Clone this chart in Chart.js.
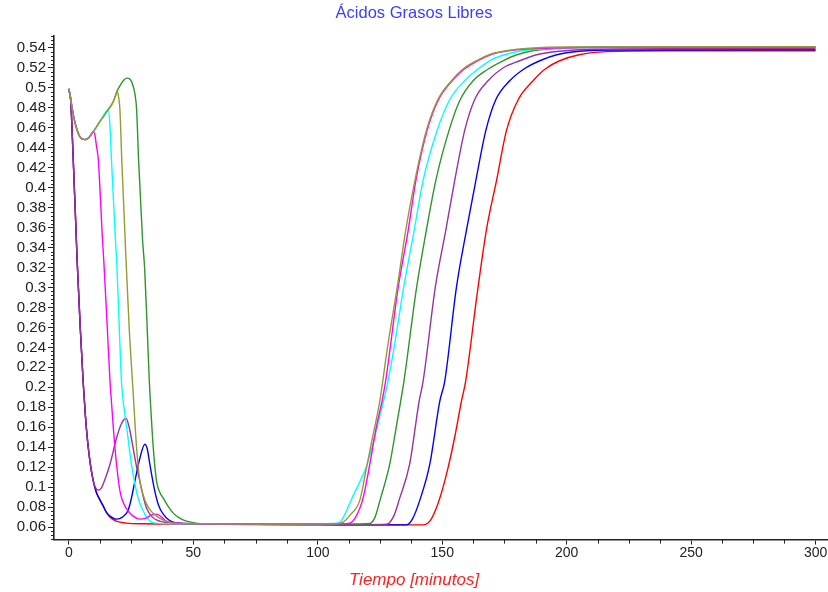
<!DOCTYPE html>
<html>
<head>
<meta charset="utf-8">
<script src="https://cdn.jsdelivr.net/npm/chart.js@4.4.1/dist/chart.umd.min.js"></script>
<style>
  html, body { margin: 0; padding: 0; background: #ffffff; }
  #chart { display: block; }
</style>
</head>
<body>
<canvas id="chart" width="828" height="592"></canvas>
<script>
// Ácidos grasos libres vs. tiempo: [minuto, concentración] por curva
const morado = [[0,0.497],[0.7,0.488],[1.7,0.43],[2.8,0.36],[3.3,0.327],[4.5,0.262],[5.7,0.206],[6.6,0.172],[7.5,0.146],[8.6,0.123],[9.8,0.106],[10.8,0.099],[11.8,0.097],[13,0.099],[14.5,0.108],[16.5,0.123],[19.1,0.149],[21,0.163],[22.9,0.169],[24.3,0.159],[25.8,0.139],[27.2,0.12],[28.5,0.106],[30,0.089],[31.2,0.079],[33.5,0.07],[36.5,0.066],[40,0.0645],[50,0.0635],[75,0.063],[100,0.0627],[120,0.0625],[127.6,0.0628],[130.5,0.071],[132.9,0.089],[136.9,0.123],[140.7,0.186],[142.3,0.206],[147.2,0.3],[151.4,0.357],[155,0.407],[159,0.457],[163,0.488],[168.4,0.507],[174.5,0.52],[181.1,0.527],[188,0.533],[197,0.5365],[210,0.5385],[240,0.539],[300,0.539]];

const azul = [[0,0.497],[0.7,0.488],[1.7,0.43],[2.8,0.36],[3.3,0.327],[4.5,0.262],[5.7,0.206],[6.6,0.172],[7.5,0.146],[8.6,0.123],[9.8,0.106],[11,0.095],[12.3,0.088],[13.8,0.081],[15,0.075],[16.5,0.071],[19.1,0.068],[21.5,0.07],[23.8,0.077],[25.2,0.09],[26.5,0.106],[28.5,0.129],[30.5,0.143],[31.5,0.138],[32.5,0.123],[34.5,0.096],[36,0.082],[37.9,0.073],[41.9,0.065],[50,0.0632],[75,0.0628],[100,0.0625],[135.6,0.0622],[138,0.068],[141,0.087],[145,0.123],[149,0.186],[151,0.206],[155.7,0.3],[159.7,0.357],[163.5,0.407],[167.5,0.457],[171.5,0.488],[177.1,0.507],[183,0.519],[189.2,0.527],[196,0.533],[205,0.5365],[220,0.5378],[300,0.538]];

const rojo = [[0,0.497],[0.7,0.488],[1.7,0.43],[2.8,0.36],[3.3,0.327],[4.5,0.262],[5.7,0.206],[6.6,0.172],[7.5,0.146],[8.6,0.123],[9.8,0.106],[11,0.095],[12.3,0.088],[13.8,0.081],[15,0.075],[16.5,0.07],[19,0.066],[23,0.064],[30,0.0633],[50,0.063],[100,0.0623],[142.3,0.0622],[145,0.066],[147.6,0.079],[150,0.097],[152.3,0.119],[155,0.15],[157.7,0.186],[159.4,0.206],[164,0.293],[167.7,0.357],[171.8,0.407],[175.8,0.457],[180.5,0.488],[186.5,0.507],[191.5,0.519],[197.2,0.527],[205,0.533],[216,0.5362],[240,0.537],[300,0.537]];

const oliva = [[0,0.499],[1,0.484],[2,0.47],[3,0.46],[4.4,0.451],[6.4,0.448],[8,0.45],[9.8,0.456],[12.4,0.466],[15.8,0.478],[17.8,0.486],[19,0.494],[19.4,0.497],[20,0.49],[20.5,0.478],[21.2,0.43],[22.9,0.33],[24.2,0.26],[25.6,0.203],[27.2,0.139],[28.5,0.106],[30,0.091],[31.2,0.083],[33,0.076],[35.2,0.071],[38,0.067],[41.9,0.064],[50,0.0633],[75,0.063],[100,0.0632],[107,0.0634],[110.2,0.065],[113,0.072],[116.9,0.087],[119.6,0.12],[122,0.15],[124.9,0.186],[128,0.24],[131.9,0.3],[135.3,0.357],[139,0.407],[143.6,0.457],[148,0.487],[153.7,0.507],[158,0.518],[163.7,0.527],[170,0.534],[175.8,0.537],[185,0.5395],[200,0.5408],[300,0.541]];

const magenta = [[0,0.499],[1,0.484],[2,0.47],[3,0.46],[4.4,0.451],[6.4,0.448],[8,0.45],[9.8,0.456],[10.4,0.453],[11.1,0.441],[11.8,0.428],[13.5,0.347],[14,0.327],[15.3,0.265],[16.5,0.206],[17.1,0.185],[18.5,0.139],[20.5,0.096],[21.8,0.085],[23.2,0.078],[25.8,0.071],[28.5,0.068],[31,0.069],[33,0.072],[35.2,0.073],[37.3,0.07],[39.2,0.066],[45,0.064],[50,0.0633],[75,0.063],[100,0.0632],[110,0.0632],[112.9,0.064],[115,0.069],[118.2,0.089],[120.9,0.123],[123.5,0.16],[125.8,0.186],[127.3,0.207],[132.3,0.3],[136.3,0.357],[139.4,0.407],[143.9,0.457],[148.3,0.487],[154,0.507],[158.5,0.518],[164.2,0.527],[170.5,0.534],[176.5,0.537],[190,0.5395],[210,0.5403],[300,0.5405]];

const cian = [[0,0.499],[1,0.484],[2,0.47],[3,0.46],[4.4,0.451],[6.4,0.448],[8,0.45],[9.8,0.456],[12.4,0.466],[15.8,0.478],[16.5,0.461],[17.1,0.427],[18.7,0.347],[19.2,0.325],[20.2,0.262],[21.1,0.206],[22.2,0.178],[23.4,0.156],[25.1,0.123],[27.8,0.089],[30.5,0.073],[33.7,0.0645],[40,0.0635],[50,0.0632],[75,0.063],[100,0.0633],[106,0.0636],[108.8,0.0648],[110.5,0.071],[112.5,0.082],[114.5,0.093],[117,0.106],[119.6,0.121],[122,0.142],[124.2,0.164],[128.2,0.206],[131,0.245],[134.5,0.3],[138.7,0.357],[142.3,0.407],[147.9,0.457],[153,0.488],[159,0.507],[164,0.518],[169,0.527],[175,0.533],[182,0.537],[195,0.5395],[215,0.5405],[300,0.5408]];

const verde = [[0,0.499],[1,0.484],[2,0.47],[3,0.46],[4.4,0.451],[6.4,0.448],[8,0.45],[9.8,0.456],[12.4,0.466],[15.8,0.478],[17.8,0.486],[19.4,0.497],[21,0.504],[22.2,0.508],[23.4,0.5096],[24.3,0.509],[25.2,0.506],[26.5,0.494],[27.2,0.478],[28,0.427],[29.6,0.347],[30.4,0.32],[31.4,0.262],[32.3,0.206],[33.1,0.17],[33.9,0.139],[35.2,0.106],[36.5,0.095],[37.9,0.089],[39.8,0.081],[41.9,0.074],[44.5,0.069],[47.2,0.066],[55.3,0.0633],[75,0.063],[100,0.0632],[117,0.0632],[120.9,0.0636],[123,0.07],[124.9,0.086],[128.9,0.123],[131.5,0.16],[133.3,0.186],[134.6,0.206],[139.7,0.3],[143.6,0.357],[147.4,0.407],[152.7,0.457],[157,0.487],[162.4,0.507],[168,0.518],[174.4,0.527],[180,0.533],[186.3,0.537],[200,0.5398],[220,0.5408],[300,0.541]];

// Ticks principales de los ejes
const xTicks = [0, 50, 100, 150, 200, 250, 300];
const yTicks = [0.06, 0.08, 0.1, 0.12, 0.14, 0.16, 0.18, 0.2, 0.22, 0.24, 0.26, 0.28, 0.3, 0.32, 0.34, 0.36, 0.38, 0.4, 0.42, 0.44, 0.46, 0.48, 0.5, 0.52, 0.54];

const series = [
  { nombre: 'Curva 1', datos: oliva,   color: '#999933' },
  { nombre: 'Curva 2', datos: magenta, color: '#ff00ff' },
  { nombre: 'Curva 3', datos: cian,    color: '#00ffff' },
  { nombre: 'Curva 4', datos: verde,   color: '#2e952e' },
  { nombre: 'Curva 5', datos: morado,  color: '#993399' },
  { nombre: 'Curva 6', datos: azul,    color: '#0000ff' },
  { nombre: 'Curva 7', datos: rojo,    color: '#ff0000' }
];

const FONT = "'Liberation Sans', Arial, sans-serif";
const AXIS_COLOR = '#222222';

// Marcas menores en ambos ejes
const minorTicks = {
  id: 'minorTicks',
  afterDraw(chart) {
    const { ctx, chartArea, scales: { x, y } } = chart;
    ctx.save();
    ctx.strokeStyle = AXIS_COLOR;
    ctx.lineWidth = 1;
    ctx.beginPath();
    for (let i = 12; i <= 138; i++) {
      if (i % 5 === 0) continue;
      const py = Math.round(y.getPixelForValue(i * 0.004)) + 0.5;
      if (py < chartArea.top || py > chartArea.bottom) continue;
      ctx.moveTo(chartArea.left - 3, py);
      ctx.lineTo(chartArea.left, py);
    }
    for (let j = 0; j <= 24; j++) {
      if (j % 4 === 0) continue;
      const px = Math.round(x.getPixelForValue(j * 12.5)) + 0.5;
      ctx.moveTo(px, chartArea.bottom);
      ctx.lineTo(px, chartArea.bottom + 4);
    }
    ctx.stroke();
    ctx.restore();
  }
};

new Chart(document.getElementById('chart'), {
  type: 'line',
  data: {
    datasets: series.map(s => ({
      label: s.nombre,
      data: s.datos.map(([t, v]) => ({ x: t, y: v })),
      borderColor: s.color,
      backgroundColor: s.color,
      borderWidth: 1.4,
      pointRadius: 0,
      fill: false,
      cubicInterpolationMode: 'monotone'
    }))
  },
  options: {
    responsive: false,
    animation: false,
    devicePixelRatio: 1,
    layout: { padding: { left: 0, right: 0, top: 0, bottom: 0 } },
    plugins: {
      legend: { display: false },
      tooltip: { enabled: false },
      title: {
        display: true,
        text: 'Ácidos Grasos Libres',
        color: '#3d3dff',
        font: { family: FONT, size: 16.5, weight: 'normal' },
        padding: { top: 4, bottom: 12 }
      },
      subtitle: {
        display: true,
        position: 'bottom',
        text: 'Tiempo [minutos]',
        color: '#ff2020',
        font: { family: FONT, size: 17, style: 'italic', weight: 'normal' },
        padding: { top: 2, bottom: 2 }
      }
    },
    scales: {
      x: {
        type: 'linear',
        min: -6,
        max: 305,
        afterBuildTicks: (scale) => { scale.ticks = xTicks.map(v => ({ value: v })); },
        afterFit: (scale) => { scale.height = 28; },
        border: { display: true, color: AXIS_COLOR, width: 1.6 },
        grid: { display: true, drawOnChartArea: false, drawTicks: true, tickLength: 5, tickColor: AXIS_COLOR },
        ticks: {
          color: '#222',
          font: { family: FONT, size: 14 },
          padding: 0,
          maxRotation: 0,
          autoSkip: false,
          callback: (v) => String(v)
        }
      },
      y: {
        type: 'linear',
        min: 0.0475,
        max: 0.552,
        afterBuildTicks: (scale) => { scale.ticks = yTicks.map(v => ({ value: v })); },
        afterFit: (scale) => { scale.width = 54; },
        border: { display: true, color: AXIS_COLOR, width: 1.6 },
        grid: { display: true, drawOnChartArea: false, drawTicks: true, tickLength: 6, tickColor: AXIS_COLOR },
        ticks: {
          color: '#222',
          font: { family: FONT, size: 15 },
          padding: 2,
          autoSkip: false,
          callback: (v) => String(+v.toFixed(2))
        }
      }
    }
  },
  plugins: [minorTicks]
});
</script>
</body>
</html>
